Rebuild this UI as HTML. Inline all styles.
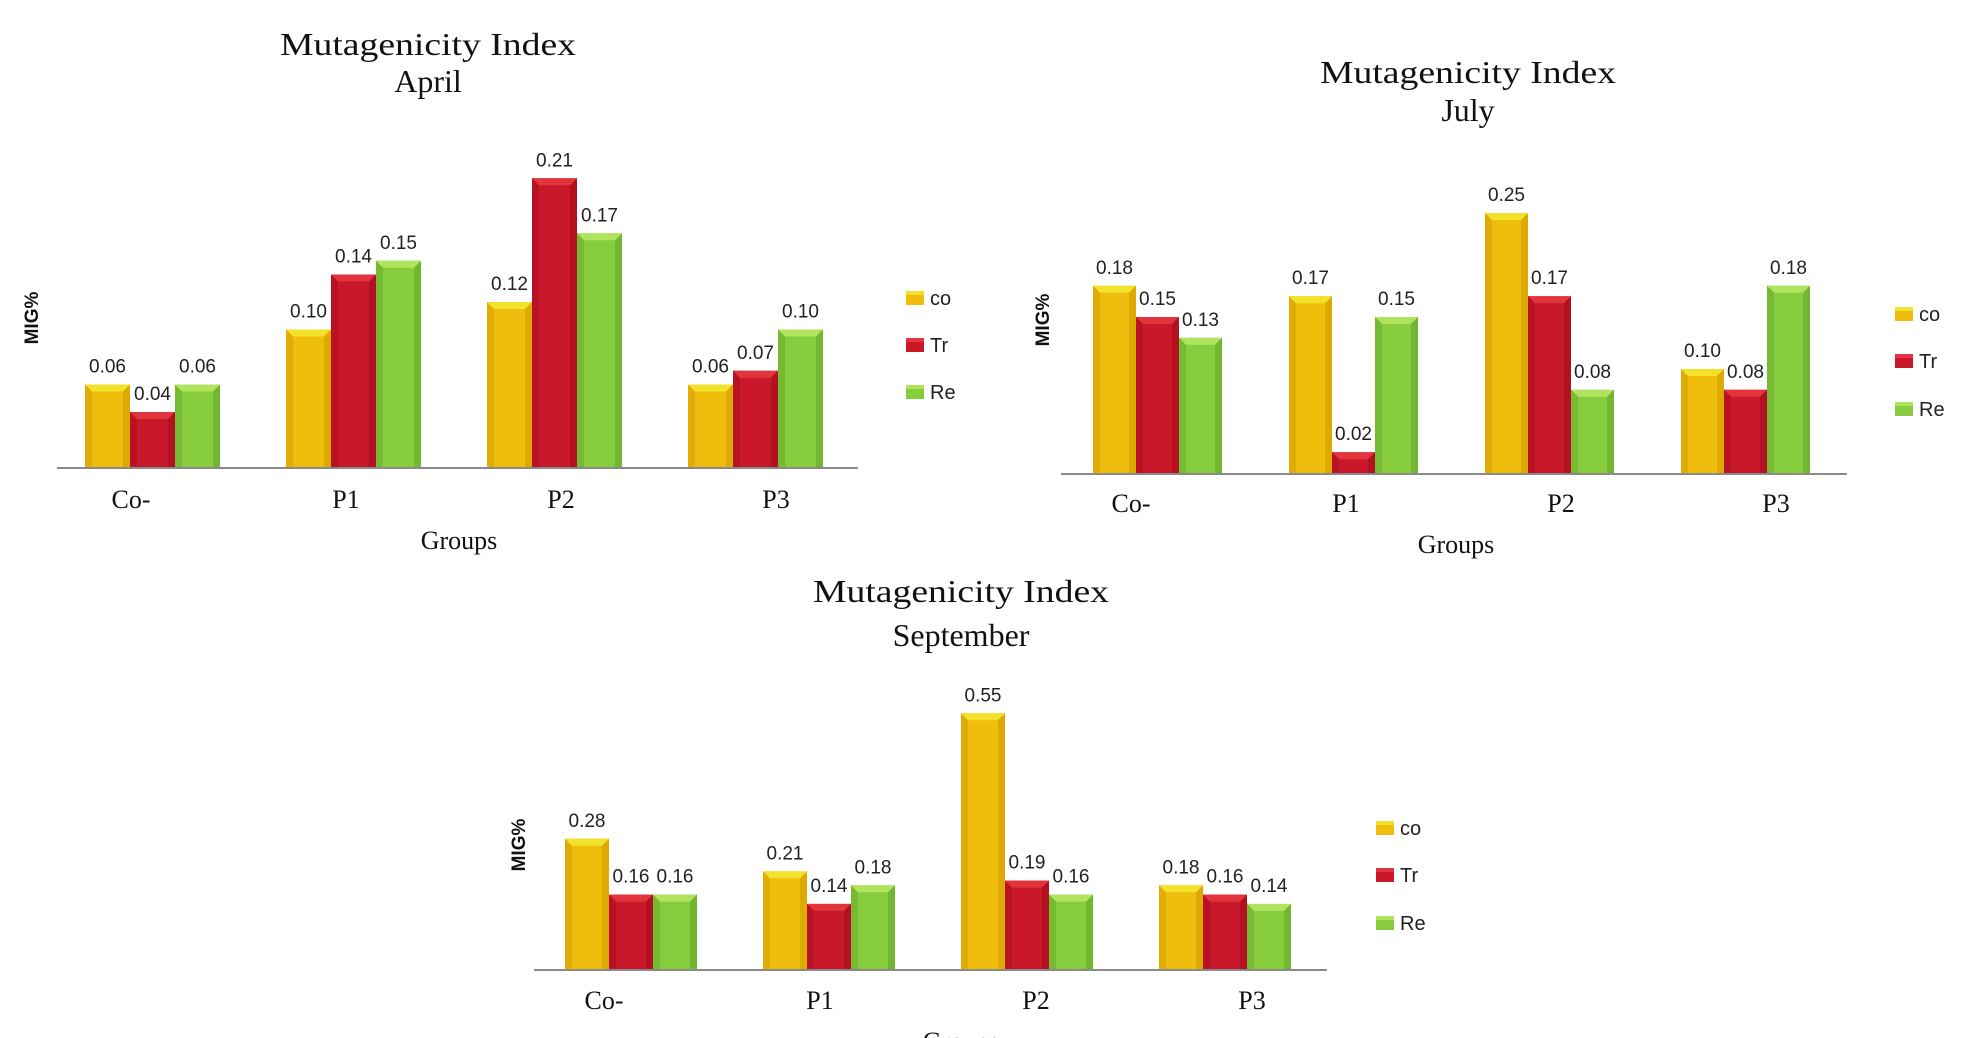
<!DOCTYPE html>
<html><head><meta charset="utf-8"><style>
html,body{margin:0;padding:0;background:#fff;}
svg{display:block;}
.title{font-family:"Liberation Serif",serif;font-size:32px;fill:#111;}
.cat{font-family:"Liberation Serif",serif;font-size:26px;fill:#111;}
.val{font-family:"Liberation Sans",sans-serif;font-size:19px;fill:#222;}
.leg{font-family:"Liberation Sans",sans-serif;font-size:20px;fill:#222;}
.yt{font-family:"Liberation Sans",sans-serif;font-size:19px;font-weight:bold;fill:#111;}
</style></head><body>
<svg id="root" width="1974" height="1038" viewBox="0 0 1974 1038" xmlns="http://www.w3.org/2000/svg"></svg>
<script>
const categories = ["Co-","P1","P2","P3"];
const seriesNames = ["co","Tr","Re"];
const aprilCo = [0.06,0.10,0.12,0.06];
const aprilTr = [0.04,0.14,0.21,0.07];
const aprilRe = [0.06,0.15,0.17,0.10];
const julyCo = [0.18,0.17,0.25,0.10];
const julyTr = [0.15,0.02,0.17,0.08];
const julyRe = [0.13,0.15,0.08,0.18];
const sepCo = [0.28,0.21,0.55,0.18];
const sepTr = [0.16,0.14,0.19,0.16];
const sepRe = [0.16,0.18,0.16,0.14];

const NS="http://www.w3.org/2000/svg";
const root=document.getElementById('root');
function mk(tag,attrs,parent){const e=document.createElementNS(NS,tag);for(const k in attrs)e.setAttribute(k,attrs[k]);(parent||root).appendChild(e);return e;}
const colors=[{base:"#efbd0c",top:"#f3e22a",dark:"#d49b00"},{base:"#c8182a",top:"#e2343c",dark:"#a50e1e"},{base:"#86cc3c",top:"#b0e45e",dark:"#66a82a"}];

const charts=[
 {id:"april",title2:"April",tx:428,ty1:55,ty2:92,x0:57,x1:858,base:467,scale:1375,firstBar:85,step:201,bw:45,catX0:131,catStep:215,catY:508,gx:459,gy:549,ytx:33,yty:318,lx:906,ly:[298,345,392],data:[aprilCo,aprilTr,aprilRe]},
 {id:"july",title2:"July",tx:1468,ty1:83,ty2:121,x0:1061,x1:1847,base:473,scale:1040,firstBar:1093,step:196,bw:43,catX0:1131,catStep:215,catY:512,gx:1456,gy:553,ytx:1044,yty:320,lx:1895,ly:[314,361,409],data:[julyCo,julyTr,julyRe]},
 {id:"september",title2:"September",tx:961,ty1:602,ty2:646,x0:534,x1:1327,base:969,scale:465,firstBar:565,step:198,bw:44,catX0:604,catStep:216,catY:1009,gx:961,gy:1050,ytx:520,yty:845,lx:1376,ly:[828,875,923],data:[sepCo,sepTr,sepRe]}
];

charts.forEach(c=>{
 const g=mk('g',{});
 
 
 const t1=mk('text',{x:c.tx,y:c.ty1,'text-anchor':'middle',class:'title',textLength:296,lengthAdjust:'spacingAndGlyphs'},g);
 t1.textContent="Mutagenicity Index";
 
 
 const t2=mk('text',{x:c.tx,y:c.ty2,'text-anchor':'middle',class:'title'},g);
 t2.textContent=c.title2;
 
 
 const ax=mk('line',{x1:c.x0,x2:c.x1,y1:c.base+1,y2:c.base+1,stroke:'#8a8a8a','stroke-width':2},g);
 
 
 const yScale=v=>c.base-v*c.scale;
 categories.forEach((cat,i)=>{
  c.data.forEach((arr,s)=>{
   const v=arr[i];
   const x=c.firstBar+i*c.step+s*c.bw;
   const y=yScale(v), h=c.base-y, w=c.bw, col=colors[s];
   const bg=mk('g',{},g);
   
   
   mk('rect',{x:x,y:y,width:w,height:h,fill:col.base},bg);
   const bv=Math.min(7,h/2);
   mk('polygon',{points:`${x},${y} ${x+w},${y} ${x+w-bv},${y+bv} ${x+bv},${y+bv}`,fill:col.top},bg);
   mk('polygon',{points:`${x},${y} ${x+bv},${y+bv} ${x+bv},${c.base} ${x},${c.base}`,fill:col.dark,opacity:0.5},bg);
   mk('polygon',{points:`${x+w},${y} ${x+w-bv},${y+bv} ${x+w-bv},${c.base} ${x+w},${c.base}`,fill:col.dark,opacity:0.6},bg);
   const lb=mk('text',{x:x+w/2,y:y-12,'text-anchor':'middle',class:'val'},g);
   lb.textContent=v.toFixed(2);
   
   
  });
  const cl=mk('text',{x:c.catX0+i*c.catStep,y:c.catY,'text-anchor':'middle',class:'cat'},g);
  cl.textContent=cat;
  
  
 });
 const gt=mk('text',{x:c.gx,y:c.gy,'text-anchor':'middle',class:'cat'},g);
 gt.textContent="Groups";
 
 
 const yt=mk('text',{x:c.ytx,y:c.yty,'text-anchor':'middle',class:'yt',transform:`rotate(-90 ${c.ytx} ${c.yty})`,'dominant-baseline':'middle'},g);
 yt.textContent="MIG%";
 
 
 seriesNames.forEach((n,s)=>{
  const lg=mk('g',{},g);
  
  
  const ly=c.ly[s];
  mk('rect',{x:c.lx,y:ly-7,width:18,height:14,fill:colors[s].base},lg);
  mk('rect',{x:c.lx,y:ly-7,width:18,height:4,fill:colors[s].top},lg);
  const tx=mk('text',{x:c.lx+24,y:ly+7,class:'leg'},lg);
  tx.textContent=n;
 });
});
</script>
</body></html>
